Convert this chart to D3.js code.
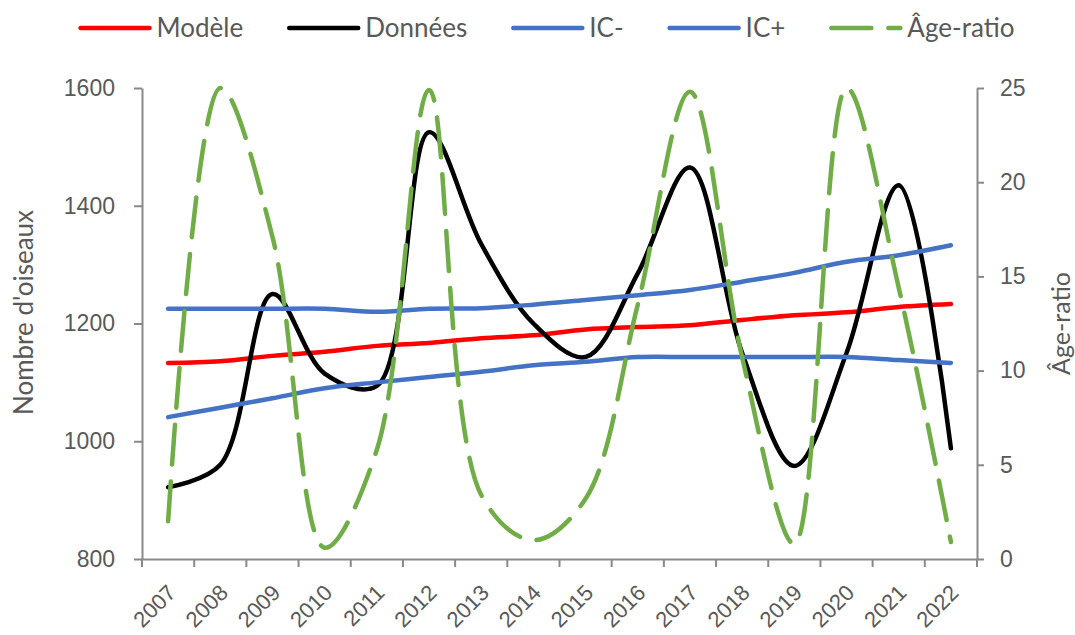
<!DOCTYPE html>
<html lang="fr">
<head>
<meta charset="UTF-8">
<title>Nombre d'oiseaux et âge-ratio</title>
<script src="https://d3js.org/d3.v7.min.js"></script>
<style>
    body { margin: 0; background: #fff; }
    svg { display: block; font-family: Lato, "Open Sans", sans-serif; }
</style>
</head>
<body>
<svg id="chart" width="1075" height="635"></svg>
<script>
const years = ["2007", "2008", "2009", "2010", "2011", "2012", "2013", "2014",
               "2015", "2016", "2017", "2018", "2019", "2020", "2021", "2022"];
const modele   = [1133, 1136, 1145, 1152, 1162, 1167, 1175, 1180, 1190, 1194, 1197, 1206, 1214, 1219, 1228, 1233];
const donnees  = [922, 960, 1250, 1115, 1094, 1525, 1335, 1200, 1143, 1285, 1465, 1150, 958, 1150, 1435, 988];
const icMoins  = [1041, 1057, 1073, 1090, 1100, 1109, 1118, 1129, 1135, 1143, 1143, 1143, 1143, 1143, 1138, 1133];
const icPlus   = [1225, 1225, 1225, 1225, 1220, 1225, 1226, 1232, 1240, 1248, 1257, 1271, 1286, 1305, 1316, 1333];
const ageRatio = [2.0, 25.0, 17.1, 0.6, 5.8, 24.9, 3.4, 1.0, 3.2, 13.5, 24.8, 10.7, 0.8, 25.0, 14.4, 0.9];
const leftTicks  = [800, 1000, 1200, 1400, 1600];
const rightTicks = [0, 5, 10, 15, 20, 25];

const svg = d3.select("#chart");
const plotL = 142, plotR = 977, plotT = 88, plotB = 559;
const axisColor = "#898989", textColor = "#595959";

const x = d3.scaleBand().domain(years).range([plotL, plotR]).padding(0);
const cx = d => x(d) + x.bandwidth() / 2;
const yL = d3.scaleLinear().domain([800, 1600]).range([plotB, plotT]);
const yR = d3.scaleLinear().domain([0, 25]).range([plotB, plotT]);

svg.append("rect").attr("width", 1075).attr("height", 635).attr("fill", "#fff");

svg.append("defs").append("clipPath").attr("id", "plot")
    .append("rect").attr("x", plotL).attr("y", plotT - 4)
    .attr("width", plotR - plotL).attr("height", plotB - plotT + 4);

// axes
const styleAxis = g => {
    g.select(".domain").attr("stroke", axisColor).attr("stroke-width", 2);
    g.selectAll(".tick line").attr("stroke", axisColor).attr("stroke-width", 2);
    g.selectAll("text").attr("fill", textColor).attr("font-size", 23);
};

svg.append("g").attr("transform", `translate(${plotL},0)`)
    .call(d3.axisLeft(yL).tickValues(leftTicks).tickFormat(d => d)
        .tickSize(8).tickSizeOuter(0).tickPadding(19))
    .call(styleAxis);

svg.append("g").attr("transform", `translate(${plotR},0)`)
    .call(d3.axisRight(yR).tickValues(rightTicks).tickFormat(d => d)
        .tickSize(7).tickSizeOuter(0).tickPadding(16))
    .call(styleAxis);

const xAxis = svg.append("g").attr("transform", `translate(0,${plotB})`)
    .call(d3.axisBottom(x).tickSize(0).tickSizeOuter(0).tickFormat(d => d))
    .call(styleAxis);
xAxis.selectAll(".tick text")
    .attr("font-size", 22)
    .attr("text-anchor", "end")
    .attr("dy", 0)
    .attr("transform", "translate(7,33) rotate(-45)");

// ticks between the years
svg.append("g").selectAll("line")
    .data(years.map(d => x(d)).concat([plotR]))
    .join("line")
    .attr("x1", d => d).attr("x2", d => d)
    .attr("y1", plotB).attr("y2", plotB + 8)
    .attr("stroke", axisColor).attr("stroke-width", 2);

// axis titles
svg.append("text")
    .attr("transform", `translate(33,${(plotT + plotB) / 2 - 11}) rotate(-90)`)
    .attr("text-anchor", "middle")
    .attr("fill", textColor).attr("font-size", 26)
    .text("Nombre d'oiseaux");

svg.append("text")
    .attr("transform", `translate(1070,${(plotT + plotB) / 2}) rotate(-90)`)
    .attr("text-anchor", "middle")
    .attr("fill", textColor).attr("font-size", 25)
    .text("Âge-ratio");

// series
const series = [
    { name: "Modèle",    values: modele,   color: "#FF0000", y: yL },
    { name: "Données",   values: donnees,  color: "#000000", y: yL },
    { name: "IC-",       values: icMoins,  color: "#4472C4", y: yL },
    { name: "IC+",       values: icPlus,   color: "#4472C4", y: yL },
    { name: "Âge-ratio", values: ageRatio, color: "#70AD47", y: yR, dash: "40,17" }
];

const plot = svg.append("g").attr("clip-path", "url(#plot)");
series.forEach(s => {
    const line = d3.line()
        .x((d, i) => cx(years[i]))
        .y(d => s.y(d))
        .curve(d3.curveCatmullRom.alpha(0.5));
    plot.append("path")
        .datum(s.values)
        .attr("d", line)
        .attr("fill", "none")
        .attr("stroke", s.color)
        .attr("stroke-width", 4.5)
        .attr("stroke-linecap", "round")
        .attr("stroke-linejoin", "round")
        .attr("stroke-dasharray", s.dash || null);
});

// legend
const legend = svg.append("g").attr("transform", "translate(0,28)");
let lx = 0;
const items = legend.selectAll("g").data(series).join("g");
items.each(function (s) {
    const g = d3.select(this).attr("transform", `translate(${lx},0)`);
    g.append("line")
        .attr("x1", 0).attr("x2", 69).attr("y1", 0).attr("y2", 0)
        .attr("stroke", s.color).attr("stroke-width", 4.5)
        .attr("stroke-linecap", "round")
        .attr("stroke-dasharray", s.dash || null);
    const t = g.append("text")
        .attr("x", 76).attr("dy", "0.35em")
        .attr("fill", textColor).attr("font-size", 26)
        .text(s.name);
    lx += 76 + t.node().getComputedTextLength() + 46;
});
const legendWidth = lx - 46;
legend.attr("transform", `translate(${(82 + 1013) / 2 - legendWidth / 2},28)`);
</script>
</body>
</html>
